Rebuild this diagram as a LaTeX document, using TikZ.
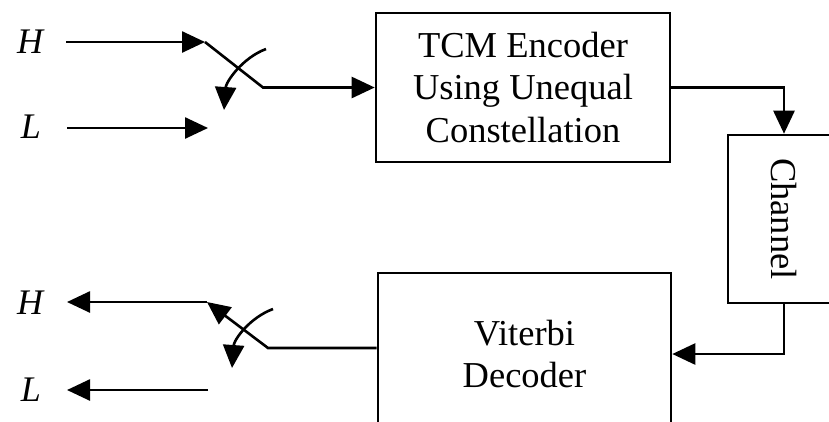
\documentclass[tikz,border=0pt]{standalone}
\usepackage{fontspec}
\setmainfont{Liberation Serif}
\usetikzlibrary{arrows.meta}

\begin{document}
\begin{tikzpicture}[x=1pt,y=-1pt,line width=2.6pt,
  arr/.style={-{Triangle[length=23pt,width=21pt]}},
  block/.style={draw,line width=2.6pt,inner sep=0pt,align=center,
    font=\fontsize{36.5}{42.5}\selectfont},
  sig/.style={font=\fontsize{36}{40}\selectfont\itshape,anchor=base,inner sep=0pt}]
\clip (0,0) rectangle (829,421);

% blocks
\node[block,minimum width=294pt,minimum height=149pt] (enc) at (523,87.5)
  {TCM Encoder\\Using Unequal\\Constellation};
\node[block,minimum width=112pt,minimum height=168pt] (chan) at (784,219)
  {\rotatebox{-90}{Channel}};
\node[block,minimum width=293pt,minimum height=162pt] (dec) at (524.5,354)
  {Viterbi\\Decoder};

% signal labels
\node[sig] (hin)  at (30,53)  {H};
\node[sig] (lin)  at (31,138) {L};
\node[sig] (hout) at (30,314) {H};
\node[sig] (lout) at (31,401) {L};

% input switch
\coordinate (hA)   at (66,42);
\coordinate (swH)  at (205,42);
\coordinate (lA)   at (67,128);
\coordinate (swL)  at (208,128);
\coordinate (piv)  at (263,87.5);
\coordinate (c1s)  at (266,49);
\coordinate (c1e)  at (224,110);
\draw[arr] (hA) -- (swH);
\draw[arr] (lA) -- (swL);
\draw[arr] (swH) -- (piv) -- (enc.west);
\draw[arr] (c1s) .. controls (242,58) and (226,82) .. (c1e);

% encoder -> channel -> decoder
\draw[arr] (enc.east) -| (chan.north);
\draw[arr] (chan.south) |- (dec.east);

% output switch
\coordinate (hB)   at (67,302);
\coordinate (swHb) at (207,302);
\coordinate (lB)   at (67,390);
\coordinate (swLb) at (208,390);
\coordinate (pivb) at (268,348);
\coordinate (c2s)  at (273,309);
\coordinate (c2e)  at (232,368);
\draw[arr] (dec.west |- pivb) -- (pivb) -- (swHb);
\draw[arr] (swHb) -- (hB);
\draw[arr] (swLb) -- (lB);
\draw[arr] (c2s) .. controls (249,318) and (234,340) .. (c2e);
\end{tikzpicture}
\end{document}
